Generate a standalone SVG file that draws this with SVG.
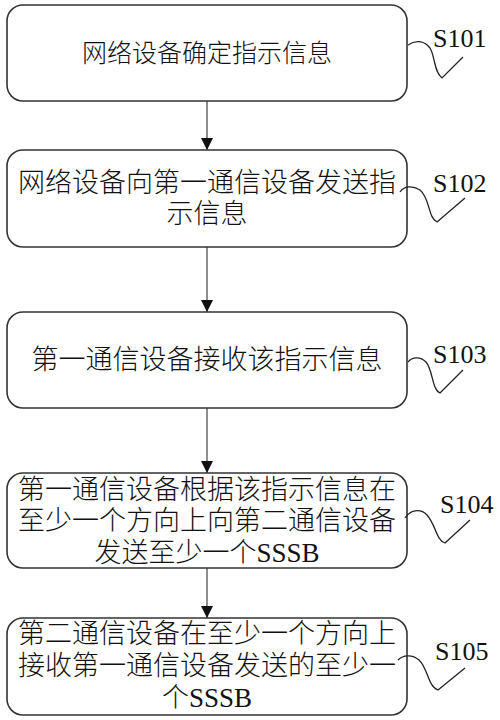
<svg xmlns="http://www.w3.org/2000/svg" width="500" height="720" viewBox="0 0 500 720">
<style>
.box{fill:#fff;stroke:#333;stroke-width:1.6}
.t{font-family:"Liberation Serif","Noto Sans CJK SC",serif;font-weight:300;fill:#111;text-anchor:middle}
.lab{font-family:"Liberation Serif",serif;font-size:26px;fill:#111}
.sq{fill:none;stroke:#222;stroke-width:1.3}
.con{stroke:#444;stroke-width:1.2;fill:none}
</style>
<defs>
<marker id="ah" markerWidth="12" markerHeight="12" refX="12" refY="6" orient="auto" markerUnits="userSpaceOnUse">
<path d="M0,0 L12,6 L0,12 Z" fill="#111"/>
</marker>
</defs>
<rect width="500" height="720" fill="#fff"/>
<g id="connectors">
<line class="con" x1="207" y1="101" x2="207" y2="150" marker-end="url(#ah)"/>
<line class="con" x1="207" y1="247" x2="207" y2="312" marker-end="url(#ah)"/>
<line class="con" x1="207" y1="408" x2="207" y2="473" marker-end="url(#ah)"/>
<line class="con" x1="207" y1="568" x2="207" y2="618" marker-end="url(#ah)"/>
</g>
<g id="s101">
<rect class="box" x="7" y="5" width="400" height="96" rx="16"/>
<text class="t" x="207" y="62" font-size="25">网络设备确定指示信息</text>
<path class="sq" d="M408,45 C415,40 424,40 430,48 C435,56 434,72 442,78 L463,57"/>
<text class="lab" x="433" y="47">S101</text>
</g>
<g id="s102">
<rect class="box" x="7" y="150" width="400" height="97" rx="16"/>
<text class="t" x="207" y="192" font-size="27">网络设备向第一通信设备发送指</text>
<text class="t" x="207" y="223" font-size="27">示信息</text>
<path class="sq" d="M400,192 C404,186 412,185 420,190 C430,198 428,218 437,222 L465,198"/>
<text class="lab" x="433" y="192">S102</text>
</g>
<g id="s103">
<rect class="box" x="7" y="312" width="400" height="96" rx="16"/>
<text class="t" x="207" y="369" font-size="27">第一通信设备接收该指示信息</text>
<path class="sq" d="M408,362 C412,357 420,356 426,362 C433,370 432,390 440,393 L463,370"/>
<text class="lab" x="433" y="363">S103</text>
</g>
<g id="s104">
<rect class="box" x="7" y="473" width="400" height="95" rx="16"/>
<text class="t" x="207" y="499" font-size="27">第一通信设备根据该指示信息在</text>
<text class="t" x="207" y="530" font-size="27">至少一个方向上向第二通信设备</text>
<text class="t" x="207" y="562" font-size="27">发送至少一个SSSB</text>
<path class="sq" d="M405,518 C410,510 420,508 427,515 C436,525 436,540 445,543 L470,520"/>
<text class="lab" x="440" y="513">S104</text>
</g>
<g id="s105">
<rect class="box" x="7" y="618" width="400" height="97" rx="16"/>
<text class="t" x="207" y="643" font-size="27">第二通信设备在至少一个方向上</text>
<text class="t" x="207" y="675" font-size="27">接收第一通信设备发送的至少一</text>
<text class="t" x="207" y="707" font-size="27">个SSSB</text>
<path class="sq" d="M398,660 C403,655 412,654 419,660 C428,668 428,687 438,690 L465,668"/>
<text class="lab" x="435" y="660">S105</text>
</g>
</svg>
